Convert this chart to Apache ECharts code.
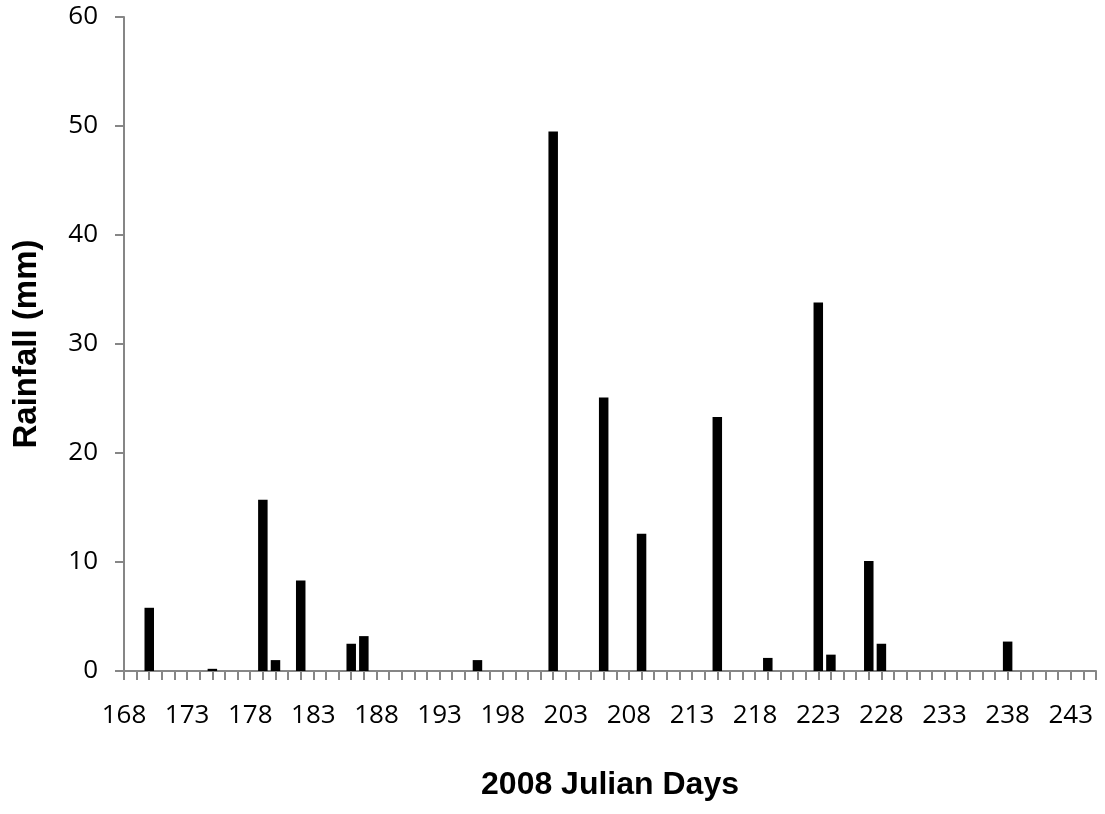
<!DOCTYPE html>
<html>
<head>
<meta charset="utf-8">
<script src="https://cdn.jsdelivr.net/npm/echarts@6/dist/echarts.min.js"></script>
<style>
html,body{margin:0;padding:0;background:#fff;}
#chart{width:1105px;height:814px;}
</style>
</head>
<body>
<div id="chart"></div>
<script>
// Julian day range shown on the axis
var firstDay = 168;
var lastDay = 245;
// Days with rainfall and the amounts (mm)
var rainDays = [170, 175, 179, 180, 182, 186, 187, 196, 202, 206, 209, 215, 219, 223, 224, 227, 228, 238];
var rainMm   = [5.8, 0.2, 15.7, 1.0, 8.3, 2.5, 3.2, 1.0, 49.5, 25.1, 12.6, 23.3, 1.2, 33.8, 1.5, 10.1, 2.5, 2.7];
var yTicks = [0, 10, 20, 30, 40, 50, 60];

var categories = [];
for (var d = firstDay; d <= lastDay; d++) categories.push(String(d));
var values = categories.map(function (c) {
  var i = rainDays.indexOf(Number(c));
  return i >= 0 ? rainMm[i] : 0;
});

var axisColor = '#868686';
var chart = echarts.init(document.getElementById('chart'));
chart.setOption({
  animation: false,
  backgroundColor: '#fff',
  grid: { left: 124, right: 9, top: 17, bottom: 143 },
  xAxis: {
    type: 'category',
    data: categories,
    boundaryGap: false,
    name: '2008 Julian Days',
    nameLocation: 'middle',
    nameGap: 98,
    nameTextStyle: { fontFamily: 'Liberation Sans', fontWeight: 'bold', fontSize: 32, color: '#000' },
    axisLine: { lineStyle: { color: axisColor, width: 2 } },
    axisTick: { show: true, interval: 0, length: 9, inside: false, lineStyle: { color: axisColor, width: 2 } },
    axisLabel: { interval: 4, margin: 32, fontFamily: 'Open Sans', fontSize: 26, color: '#000' },
    splitLine: { show: false }
  },
  yAxis: {
    type: 'value',
    min: yTicks[0],
    max: yTicks[yTicks.length - 1],
    interval: yTicks[1] - yTicks[0],
    name: 'Rainfall (mm)',
    nameLocation: 'middle',
    nameGap: 81,
    nameRotate: 90,
    nameTextStyle: { fontFamily: 'Liberation Sans', fontWeight: 'bold', fontSize: 33, color: '#000' },
    axisLine: { show: true, lineStyle: { color: axisColor, width: 2 } },
    axisTick: { show: true, length: 9, lineStyle: { color: axisColor, width: 2 } },
    axisLabel: { margin: 26, fontFamily: 'Open Sans', fontSize: 26, color: '#000' },
    splitLine: { show: false }
  },
  series: [{
    type: 'bar',
    data: values,
    barWidth: 9.5,
    itemStyle: { color: '#000' }
  }]
});
</script>
</body>
</html>
